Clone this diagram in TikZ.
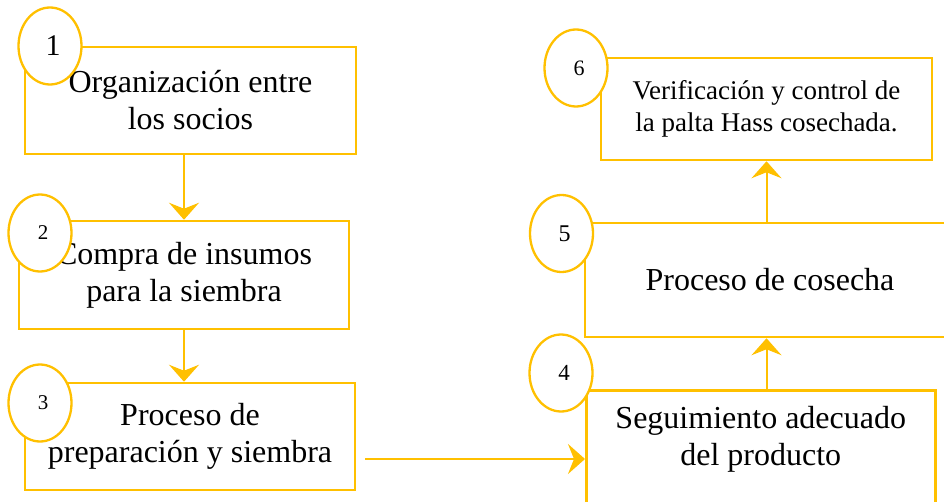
\documentclass[tikz,border=0pt]{standalone}
\usepackage{fontspec}
\setmainfont{Liberation Serif}
\usepackage{tikz}
\usetikzlibrary{positioning}
\usetikzlibrary{shapes.geometric, arrows.meta}
\definecolor{gold}{HTML}{FFC000}
\tikzstyle{box} = [rectangle, draw=gold, line width=2.5pt, fill=white,
                   align=center, font=\fontsize{32}{37}\selectfont]
\tikzstyle{txt} = [align=center, font=\fontsize{32}{37}\selectfont]
\tikzstyle{num} = [ellipse, draw=gold, line width=2.3pt, fill=white,
                   minimum width=63pt, minimum height=77pt, inner sep=0pt]
\tikzstyle{arrow} = [draw=gold, line width=2pt,
                     -{Stealth[length=17pt, width=30pt, inset=6pt]}]

\begin{document}
\begin{tikzpicture}[x=1pt, y=-1pt]
\clip (0,0) rectangle (944,502);
\node (b1) [box, minimum width=331pt, minimum height=107pt] at (190.5,100.5) {Organización entre\\los socios};
\node (b2) [box, minimum width=330pt, minimum height=108pt] at (184,275) {Compra de insumos\\para la siembra};
\node (b3) [box, minimum width=330pt, minimum height=107pt] at (190,436.5) {Proceso de\\preparación y siembra};
\node (b4) [box, minimum width=349pt, minimum height=140pt, anchor=north west] at (585,389) {};
\node (t4) [txt] at (b4.north |- 0,439) {Seguimiento adecuado\\del producto};
\node (b5) [box, minimum width=370pt, minimum height=114pt] at (770,280) {Proceso de cosecha};
\node (b6) [box, font=\fontsize{27}{32}\selectfont, minimum width=331pt, minimum height=102pt] at (766.5,109) {Verificación y control de\\la palta Hass cosechada.};

\coordinate (s34) at (365,459);
\draw [arrow] (b1.south -| b2.north) -- (b2.north);
\draw [arrow] (b2.south) -- (b2.south |- b3.north);
\draw [arrow] (s34) -- (s34 -| b4.west);
\draw [arrow] (b4.north -| b6.south) -- (b5.south -| b6.south);
\draw [arrow] (b5.north -| b6.south) -- (b6.south);

\node (n1) [num, font=\fontsize{30}{30}\selectfont] at (50,46) {\hspace*{6pt}1};
\node (n2) [num, font=\fontsize{21}{21}\selectfont] at (40,233) {\hspace*{6pt}2};
\node (n3) [num, font=\fontsize{21}{21}\selectfont] at (40,403) {\hspace*{6pt}3};
\node (n4) [num, font=\fontsize{23}{23}\selectfont] at (561,373) {\hspace*{6pt}4};
\node (n5) [num, font=\fontsize{24}{24}\selectfont] at (561.5,233.5) {\hspace*{6pt}5};
\node (n6) [num, font=\fontsize{22}{22}\selectfont] at (576,68) {\hspace*{6pt}6};
\end{tikzpicture}
\end{document}
